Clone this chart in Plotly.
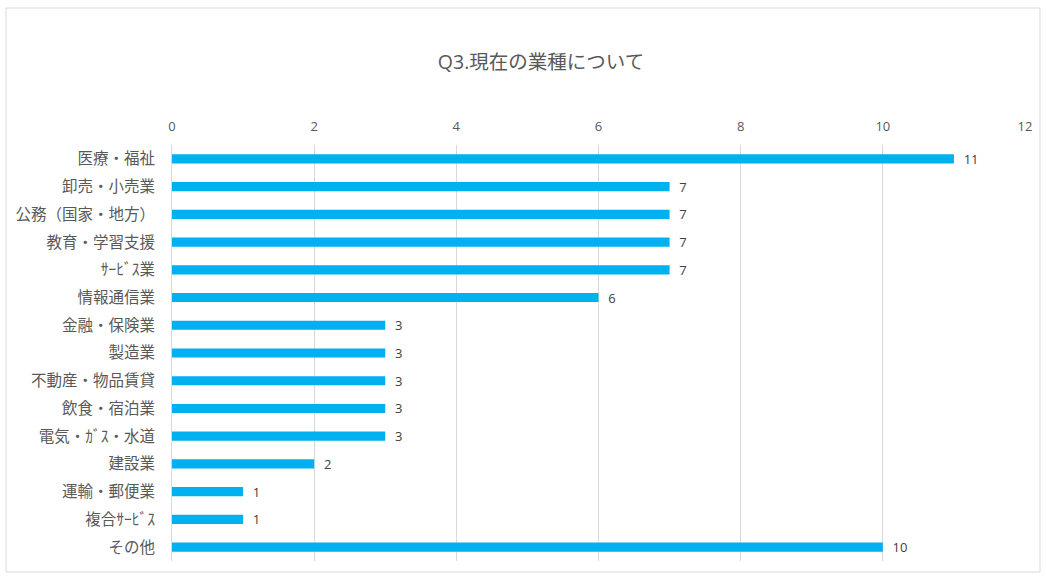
import plotly.graph_objects as go

categories = ["医療・福祉", "卸売・小売業", "公務（国家・地方）", "教育・学習支援", "ｻｰﾋﾞｽ業",
              "情報通信業", "金融・保険業", "製造業", "不動産・物品賃貸", "飲食・宿泊業",
              "電気・ｶﾞｽ・水道", "建設業", "運輸・郵便業", "複合ｻｰﾋﾞｽ", "その他"]
values = [11, 7, 7, 7, 7, 6, 3, 3, 3, 3, 3, 2, 1, 1, 10]
title_text = "Q3.現在の業種について"

FONT = "Open Sans, Noto Sans CJK JP, sans-serif"

fig = go.Figure(go.Bar(
    x=values, y=categories, orientation="h",
    marker=dict(color="#00B0F0", line=dict(width=0)),
    width=0.33,
    text=["\u00a0\u00a0" + str(v) for v in values], textposition="outside",
    constraintext="none",
    textfont=dict(family=FONT, size=13, color="#404040"),
    cliponaxis=False,
))

fig.update_layout(
    width=1046, height=576,
    margin=dict(l=172, r=21, t=145, b=15),
    paper_bgcolor="white", plot_bgcolor="white",
    showlegend=False,
    title=dict(text=title_text, x=541 / 1046, xref="container", y=0.892, yref="container",
               xanchor="center", yanchor="middle",
               font=dict(family=FONT, size=19.5, color="#595959")),
    xaxis=dict(range=[0, 12], dtick=2, side="top", showgrid=True, gridcolor="#D9D9D9",
               gridwidth=1, zeroline=False, showline=False, ticks="",
               ticklabelstandoff=10,
               tickfont=dict(family=FONT, size=13, color="#595959")),
    yaxis=dict(autorange="reversed", showgrid=False, showline=True, linecolor="#D9D9D9",
               ticks="", ticklabelstandoff=13,
               tickfont=dict(family=FONT, size=15.5, color="#595959")),
    shapes=[dict(type="rect", xref="paper", yref="paper",
                 x0=(6 - 172) / 853, x1=(1040 - 172) / 853,
                 y0=(561 - 572) / 416, y1=(561 - 8) / 416,
                 line=dict(color="#D9D9D9", width=1), layer="below")],
)

fig.write_html("out.html")
